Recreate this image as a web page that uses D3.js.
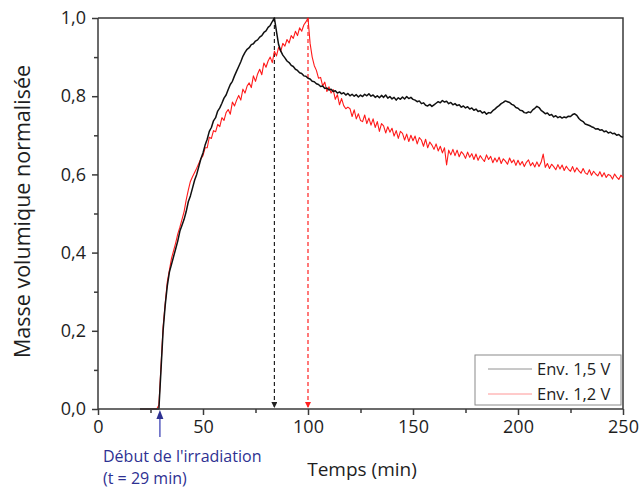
<!DOCTYPE html>
<html><head><meta charset="utf-8">
<script src="https://cdn.jsdelivr.net/npm/d3@7"></script>
<style>body{margin:0;background:#fff} svg{display:block;font-family:"Open Sans",sans-serif}</style>
</head><body>
<svg id="c" width="639" height="491"></svg>
<script>
// ---- data ----
const xTicks = [0, 50, 100, 150, 200, 250];
const xMinorTicks = [25, 75, 125, 175, 225];
const yTicks = [0, 0.2, 0.4, 0.6, 0.8, 1.0];
const yMinorTicks = [0.1, 0.3, 0.5, 0.7, 0.9];
const seriesNames = ["Env. 1,5 V", "Env. 1,2 V"];
const peakTimes = [84, 100];          // end of irradiation (dashed arrows)
const irradiationStart = 29;          // min
const sampleStart = 20;               // time of first sample (min), 1 sample per minute
const sampleStep = 1;

// Env. 1,5 V  (black), t = 20 ... 250 min
const black15 = [
 0,0,0,0,0,0,0,0,0,0,
 0.10,0.20,0.265,0.315,0.35,0.37,0.39,0.41,0.43,0.455,
 0.47,0.485,0.505,0.53,0.545,0.565,0.585,0.6,0.62,0.64,
 0.655,0.675,0.69,0.71,0.72,0.737,0.745,0.762,0.77,0.782,
 0.795,0.803,0.817,0.83,0.838,0.852,0.864,0.876,0.888,0.902,
 0.912,0.92,0.924,0.932,0.934,0.941,0.944,0.951,0.955,0.963,
 0.967,0.976,0.981,0.991,1.0,0.965,0.932,0.916,0.905,0.898,
 0.89,0.886,0.879,0.876,0.869,0.866,0.86,0.858,0.852,0.851,
 0.846,0.844,0.838,0.837,0.832,0.83,0.825,0.826,0.82,0.821,
 0.816,0.818,0.812,0.814,0.808,0.811,0.806,0.809,0.803,0.807,
 0.801,0.805,0.8,0.804,0.798,0.803,0.799,0.805,0.801,0.806,
 0.8,0.803,0.797,0.801,0.796,0.802,0.797,0.803,0.795,0.799,
 0.793,0.797,0.79,0.796,0.792,0.798,0.793,0.799,0.794,0.797,
 0.792,0.79,0.786,0.788,0.781,0.783,0.777,0.775,0.779,0.774,
 0.778,0.782,0.786,0.783,0.789,0.785,0.787,0.781,0.784,0.778,
 0.781,0.776,0.778,0.772,0.775,0.77,0.773,0.767,0.77,0.764,
 0.767,0.761,0.763,0.757,0.76,0.754,0.758,0.757,0.763,0.767,
 0.772,0.776,0.781,0.784,0.788,0.786,0.784,0.779,0.777,0.771,
 0.769,0.764,0.763,0.758,0.757,0.76,0.758,0.765,0.769,0.774,
 0.771,0.764,0.76,0.755,0.757,0.751,0.753,0.747,0.75,0.745,
 0.748,0.744,0.747,0.745,0.749,0.748,0.753,0.755,0.751,0.743,
 0.738,0.735,0.729,0.727,0.725,0.722,0.72,0.716,0.717,0.713,
 0.714,0.709,0.711,0.706,0.708,0.704,0.705,0.7,0.702,0.697,0.695
];

// Env. 1,2 V  (red), t = 20 ... 250 min
const red12 = [
 0,0,0,0,0,0,0,0,0,0.01,
 0.11,0.21,0.27,0.325,0.355,0.385,0.405,0.425,0.448,0.465,
 0.485,0.505,0.535,0.56,0.582,0.594,0.605,0.616,0.628,0.64,
 0.648,0.668,0.668,0.695,0.692,0.712,0.709,0.728,0.722,0.745,
 0.738,0.758,0.766,0.754,0.785,0.775,0.79,0.802,0.79,0.818,
 0.808,0.826,0.834,0.822,0.852,0.838,0.857,0.869,0.855,0.885,
 0.874,0.89,0.9,0.886,0.915,0.903,0.925,0.914,0.935,0.928,
 0.945,0.936,0.955,0.948,0.966,0.955,0.975,0.966,0.982,0.99,
 1.0,0.935,0.9,0.878,0.866,0.846,0.848,0.826,0.836,0.812,
 0.824,0.808,0.817,0.792,0.804,0.778,0.794,0.776,0.768,0.772,
 0.768,0.748,0.765,0.742,0.755,0.738,0.735,0.752,0.73,0.744,
 0.726,0.742,0.72,0.735,0.71,0.73,0.724,0.706,0.722,0.708,
 0.718,0.698,0.712,0.692,0.71,0.705,0.688,0.703,0.684,0.7,
 0.686,0.698,0.678,0.694,0.688,0.672,0.69,0.668,0.683,0.675,
 0.664,0.678,0.66,0.672,0.655,0.668,0.624,0.662,0.65,0.664,
 0.648,0.662,0.645,0.658,0.652,0.641,0.657,0.644,0.653,0.638,
 0.652,0.636,0.648,0.64,0.633,0.65,0.638,0.646,0.63,0.642,
 0.632,0.644,0.628,0.64,0.634,0.626,0.642,0.63,0.637,0.623,
 0.636,0.624,0.633,0.62,0.631,0.637,0.622,0.63,0.619,0.632,
 0.62,0.631,0.652,0.618,0.628,0.615,0.626,0.62,0.612,0.625,
 0.614,0.624,0.61,0.621,0.613,0.608,0.62,0.606,0.617,0.609,
 0.603,0.615,0.604,0.6,0.612,0.598,0.608,0.601,0.596,0.607,
 0.594,0.604,0.592,0.6,0.597,0.588,0.601,0.593,0.587,0.598,0.592
];

// ---- chart ----
const L = 98, R = 623, T = 18, B = 409;
const svg = d3.select("#c");
const x = d3.scaleLinear().domain([0, 250]).range([L, R]);
const y = d3.scaleLinear().domain([0, 1]).range([B, T]);
const axisColor = "#3a3a3a";
const textColor = "#1e1e1e";
const fmtY = d => d3.format(".1f")(d).replace(".", ",");

const toPts = arr => arr.map((v, i) => [sampleStart + i * sampleStep, v]);
const line = d3.line().x(d => x(d[0])).y(d => y(d[1]));

// frame (top & right)
svg.append("path")
  .attr("d", `M${L},${T}H${R}V${B}`)
  .attr("fill", "none").attr("stroke", axisColor).attr("stroke-width", 1.5);

// dashed peak markers
const markerColors = ["#222", "#ff2020"];
const defs = svg.append("defs");
markerColors.forEach((c, i) => {
  defs.append("marker").attr("id", "arr" + i)
    .attr("viewBox", "0 0 10 10").attr("refX", 10).attr("refY", 5)
    .attr("markerWidth", 6).attr("markerHeight", 6)
    .attr("markerUnits", "userSpaceOnUse").attr("orient", "auto")
    .append("path").attr("d", "M0,0L10,5L0,10Z").attr("fill", c);
});
peakTimes.forEach((t, i) => {
  svg.append("line")
    .attr("x1", x(t)).attr("x2", x(t))
    .attr("y1", y(1)).attr("y2", y(0) - 1)
    .attr("stroke", markerColors[i]).attr("stroke-width", 1.2)
    .attr("stroke-dasharray", "4,3")
    .attr("marker-end", `url(#arr${i})`);
});

// series
svg.append("path").datum(toPts(red12)).attr("d", line)
  .attr("fill", "none").attr("stroke", "#ff1a1a").attr("stroke-width", 1.1)
  .attr("stroke-linejoin", "round");
svg.append("path").datum(toPts(black15)).attr("d", line)
  .attr("fill", "none").attr("stroke", "#111").attr("stroke-width", 1.5)
  .attr("stroke-linejoin", "round");

// axes
const gx = svg.append("g").attr("transform", `translate(0,${B})`)
  .call(d3.axisBottom(x).tickValues(xTicks).tickSize(6).tickPadding(5).tickFormat(d => d));
const gxm = svg.append("g").attr("transform", `translate(0,${B})`)
  .call(d3.axisBottom(x).tickValues(xMinorTicks).tickSize(4).tickFormat(""));
gxm.select(".domain").remove();
const gy = svg.append("g").attr("transform", `translate(${L},0)`)
  .call(d3.axisLeft(y).tickValues(yTicks).tickSize(6).tickPadding(6).tickFormat(fmtY));
const gym = svg.append("g").attr("transform", `translate(${L},0)`)
  .call(d3.axisLeft(y).tickValues(yMinorTicks).tickSize(4).tickFormat(""));
gym.select(".domain").remove();
[gx, gxm, gy, gym].forEach(g => {
  g.selectAll(".domain").attr("stroke", axisColor).attr("stroke-width", 1.5);
  g.selectAll(".tick line").attr("stroke", axisColor).attr("stroke-width", 1.5);
  g.selectAll(".tick text").attr("fill", textColor)
    .style("font-family", "'Open Sans', sans-serif").style("font-size", "18px");
});
gx.selectAll(".domain").attr("d", `M${L},0H${R}`);
gy.selectAll(".domain").attr("d", `M0,${B}V${T}`);

// axis titles
svg.append("text").attr("x", 362).attr("y", 476).attr("text-anchor", "middle")
  .attr("fill", textColor).style("font-size", "19px").text("Temps (min)");
svg.append("text").attr("transform", `translate(30,${(T + B) / 2 - 2}) rotate(-90)`)
  .attr("text-anchor", "middle").attr("fill", textColor)
  .style("font-size", "21.5px").text("Masse volumique normalisée");

// irradiation annotation
const blue = "#2e3192";
const bx = x(irradiationStart) + 1;
svg.append("line").attr("x1", bx).attr("x2", bx).attr("y1", 437).attr("y2", 417)
  .attr("stroke", "#5a5fc0").attr("stroke-width", 1.5);
svg.append("path").attr("d", `M${bx - 3.5},${419}L${bx},${410}L${bx + 3.5},${419}Z`)
  .attr("fill", blue);
svg.append("text").attr("x", 103).attr("y", 462).attr("fill", blue)
  .style("font-size", "16px").text("Début de l'irradiation");
svg.append("text").attr("x", 103).attr("y", 484).attr("fill", blue)
  .style("font-size", "16px").text("(t = " + irradiationStart + " min)");

// legend
const lg = svg.append("g").attr("transform", "translate(475,355)");
lg.append("rect").attr("width", 146).attr("height", 50)
  .attr("fill", "#fff").attr("stroke", "#8a8a8a").attr("stroke-width", 1);
const legendColors = ["#111", "#ff1a1a"];
seriesNames.forEach((n, i) => {
  const yy = 14 + i * 25;
  lg.append("line").attr("x1", 13).attr("x2", 57).attr("y1", yy).attr("y2", yy)
    .attr("stroke", legendColors[i]).attr("stroke-width", 1).attr("opacity", 0.45);
  lg.append("text").attr("x", 62).attr("y", yy + 6).attr("fill", textColor)
    .style("font-size", "16.5px").text(n);
});
</script>
</body></html>
